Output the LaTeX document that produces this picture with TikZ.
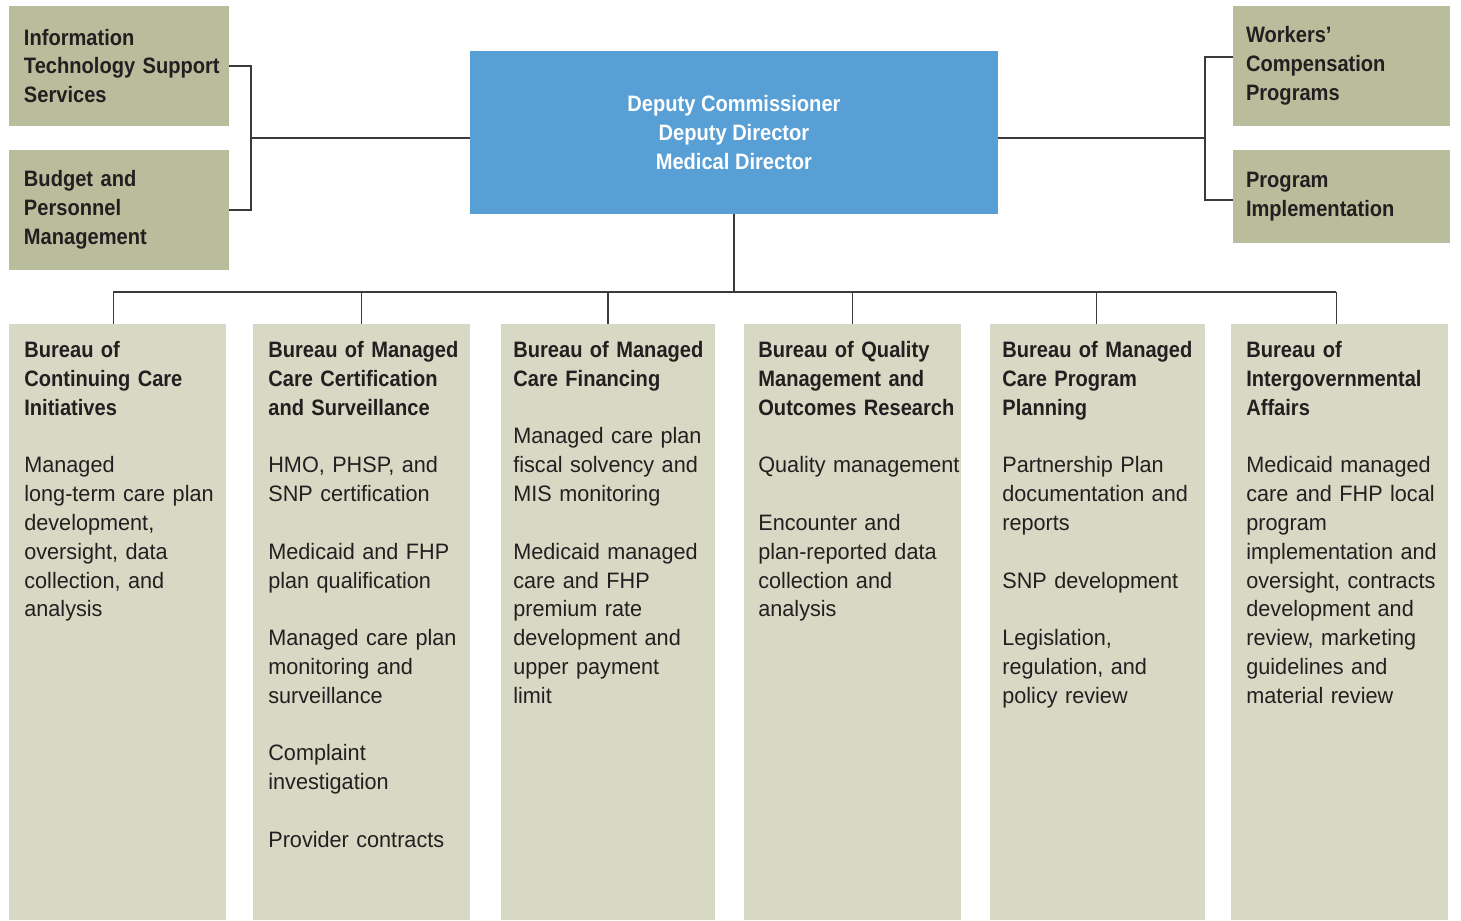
\documentclass[tikz,border=0pt]{standalone}
\usepackage{fontspec}
\setmainfont{Liberation Sans}[UprightFeatures={FakeStretch=0.97}, BoldFeatures={FakeStretch=0.9}]
\usetikzlibrary{positioning,calc}

\definecolor{olivebox}{HTML}{B9BD9B}
\definecolor{palebox}{HTML}{D8D9C4}
\definecolor{chiefblue}{HTML}{579FD5}
\definecolor{inkgray}{HTML}{231F20}
\definecolor{wiregray}{HTML}{3A3A3A}

\begin{document}
\begin{tikzpicture}[
  x=0.02cm, y=-0.02cm,
  lbl/.style={font={\fontsize{12.7pt}{16.4pt}\selectfont\hyphenpenalty=10000\relax}, text=inkgray},
  unit/.style={lbl, font={\fontsize{12.7pt}{16.4pt}\selectfont\bfseries\hyphenpenalty=10000\relax},
    fill=olivebox, anchor=north west, align=left, inner ysep=0pt,
    inner xsep=0.3cm, outer sep=0pt},
  chief/.style={lbl, font=\fontsize{12.7pt}{16.4pt}\selectfont\bfseries,
    fill=chiefblue, text=white, anchor=north west, align=center,
    minimum width=10.56cm, minimum height=3.26cm, inner sep=0pt, outer sep=0pt},
  bureau/.style={fill=palebox, anchor=north west, minimum height=11.92cm,
    inner sep=0pt, outer sep=0pt},
  btext/.style={lbl, anchor=north west, align=left, text width=4.4cm, inner sep=0pt},
  wire/.style={draw=wiregray, line width=0.75pt}
]
\useasboundingbox (0,0) rectangle (1461,920);

% Deputy commissioner's office
\node[chief] (chief) at (470,51) {Deputy Commissioner\\Deputy Director\\Medical Director};

% Staff units, left side
\node[unit, text width=3.8cm, minimum height=2.4cm] (its) at (9,6)
  {Information\\Technology~Support\\Services};
\node[unit, text width=3.8cm, minimum height=2.4cm] (bpm) at (9,150)
  {Budget and\\Personnel\\Management};

% Staff units, right side
\node[unit, inner xsep=0.26cm, text width=3.82cm, minimum height=2.4cm] (wcp) at (1233,6)
  {Workers’\\Compensation\\Programs};
\node[unit, inner xsep=0.26cm, text width=3.82cm, minimum height=1.86cm] (pim) at (1233,150)
  {Program\\Implementation};

% Bureaus
\node[bureau, minimum width=4.34cm] (b1) at (9,324) {};
\node[bureau, minimum width=4.34cm] (b2) at (253,324) {};
\node[bureau, minimum width=4.28cm] (b3) at (501,324) {};
\node[bureau, minimum width=4.34cm] (b4) at (744,324) {};
\node[bureau, minimum width=4.30cm] (b5) at (990,324) {};
\node[bureau, minimum width=4.34cm] (b6) at (1231,324) {};

\node[btext] (b1t) at ($(b1.north west)+(15,17)$)
  {\textbf{Bureau of\\Continuing Care\\Initiatives}\\[16.4pt]
   Managed\\long-term care plan\\development,\\oversight, data\\collection, and\\analysis};
\node[btext] (b2t) at ($(b2.north west)+(15,17)$)
  {\textbf{Bureau of Managed\\Care Certification\\and Surveillance}\\[16.4pt]
   HMO, PHSP, and\\SNP certification\\[16.4pt]
   Medicaid and FHP\\plan qualification\\[16.4pt]
   Managed care plan\\monitoring and\\surveillance\\[16.4pt]
   Complaint\\investigation\\[16.4pt]
   Provider contracts};
\node[btext] (b3t) at ($(b3.north west)+(12,17)$)
  {\textbf{Bureau of Managed\\Care Financing}\\[16.4pt]
   Managed care plan\\fiscal solvency and\\MIS monitoring\\[16.4pt]
   Medicaid managed\\care and FHP\\premium rate\\development and\\upper payment\\limit};
\node[btext] (b4t) at ($(b4.north west)+(14,17)$)
  {\textbf{Bureau of Quality\\Management and\\Outcomes Research}\\[16.4pt]
   Quality management\\[16.4pt]
   Encounter and\\plan-reported data\\collection and\\analysis};
\node[btext] (b5t) at ($(b5.north west)+(12,17)$)
  {\textbf{Bureau of Managed\\Care Program\\Planning}\\[16.4pt]
   Partnership Plan\\documentation and\\reports\\[16.4pt]
   SNP development\\[16.4pt]
   Legislation,\\regulation, and\\policy review};
\node[btext] (b6t) at ($(b6.north west)+(15,17)$)
  {\textbf{Bureau of\\Intergovernmental\\Affairs}\\[16.4pt]
   Medicaid managed\\care and FHP local\\program\\implementation and\\oversight, contracts\\development and\\review, marketing\\guidelines and\\material review};

% Junction points
\coordinate (jl) at (251,138);
\coordinate (jrt) at (1205,57);
\coordinate (jrb) at (1205,200);
\coordinate (bus) at (0,292);

% Left staff connectors
\draw[wire] (its.east) -- (its.east -| jl) -- (bpm.east -| jl) -- (bpm.east);
\draw[wire] (jl) -- (jl -| chief.west);

% Right staff connectors
\draw[wire] (jrt -| wcp.west) -- (jrt) -- (jrb) -- (jrb -| pim.west);
\draw[wire] (chief.east |- jl) -- (jrt |- jl);

% Bureau connectors
\draw[wire] (chief.south) -- (chief.south |- bus);
\draw[wire] ([xshift=-0.08cm]b1.north |- bus) -- ([xshift=-0.06cm]b6.north |- bus);
\foreach \b/\dx in {b1/-0.08,b2/0,b3/0,b4/0,b5/-0.02,b6/-0.06}
  \draw[wire] ([xshift=\dx cm]\b.north) -- ([xshift=\dx cm]\b.north |- bus);

\end{tikzpicture}
\end{document}
